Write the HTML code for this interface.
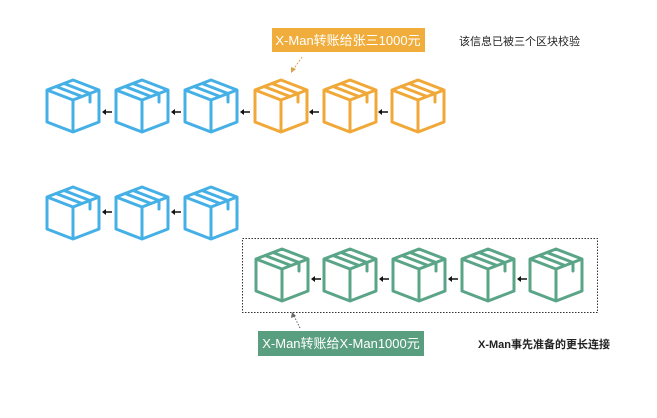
<!DOCTYPE html>
<html><head><meta charset="utf-8"><style>
body{margin:0;background:#fff;width:657px;height:413px;overflow:hidden;font-family:"Liberation Sans","Noto Sans CJK SC",sans-serif}
</style></head><body>
<svg width="657" height="413" xmlns="http://www.w3.org/2000/svg">
<defs>
<g id="box" fill="none" stroke-width="3" stroke-linejoin="round" stroke-linecap="round">
<path d="M28 2 L54 12 L54 44 L28 54 L2 44 L2 12 Z M2 12 L28 22 L54 12 M28 22 L28 54 M11 8.5 L37 18.5 M19 5.5 L45 15.5 L45 24"/>
</g>
<g id="arr"><line x1="2" y1="0" x2="10" y2="0" stroke="#111" stroke-width="1.5"/><path d="M0 0 L4 -3 L4 3 Z" fill="#111"/></g>
</defs>
<g stroke="#45b0e6">
<use href="#box" x="45" y="78"/><use href="#box" x="114" y="78"/><use href="#box" x="183" y="78"/>
<use href="#box" x="45" y="185"/><use href="#box" x="114" y="185"/><use href="#box" x="183" y="185"/>
</g>
<g stroke="#f0a838">
<use href="#box" x="253" y="78"/><use href="#box" x="322" y="78"/><use href="#box" x="390" y="78"/>
</g>
<g stroke="#5aa587">
<use href="#box" x="254" y="247"/><use href="#box" x="322" y="247"/><use href="#box" x="391" y="247"/><use href="#box" x="460" y="247"/><use href="#box" x="528" y="247"/>
</g>
<use href="#arr" x="102" y="112"/><use href="#arr" x="171" y="112"/><use href="#arr" x="240" y="112"/><use href="#arr" x="309" y="112"/><use href="#arr" x="378" y="112"/>
<use href="#arr" x="102" y="212"/><use href="#arr" x="171" y="212"/>
<use href="#arr" x="311" y="279"/><use href="#arr" x="379" y="279"/><use href="#arr" x="448" y="279"/><use href="#arr" x="517" y="279"/>
<rect x="242.5" y="238.5" width="355" height="74" fill="none" stroke="#333" stroke-width="1" stroke-dasharray="1.5,1.5"/>
<rect x="272" y="28" width="153" height="24" fill="#f0ad3c"/>
<text x="348" y="45" font-size="13" fill="#fff" text-anchor="middle">X-Man转账给张三1000元</text>
<line x1="302" y1="57" x2="293" y2="70" stroke="#d9a04a" stroke-width="1" stroke-dasharray="2,1.5"/>
<path d="M291 73 L291 67 L296 69 Z" fill="#d9a04a"/>
<rect x="258" y="331" width="166" height="25" fill="#5a9e80"/>
<text x="341" y="348" font-size="13" fill="#fff" text-anchor="middle">X-Man转账给X-Man1000元</text>
<line x1="300" y1="328" x2="294" y2="316" stroke="#666" stroke-width="1" stroke-dasharray="1.5,1.5"/>
<path d="M292 312 L291 318 L296 316 Z" fill="#666"/>
<text x="459" y="45" font-size="11" fill="#222">该信息已被三个区块校验</text>
<text x="478" y="348" font-size="11" font-weight="bold" fill="#222">X-Man事先准备的更长连接</text>
</svg>
</body></html>
